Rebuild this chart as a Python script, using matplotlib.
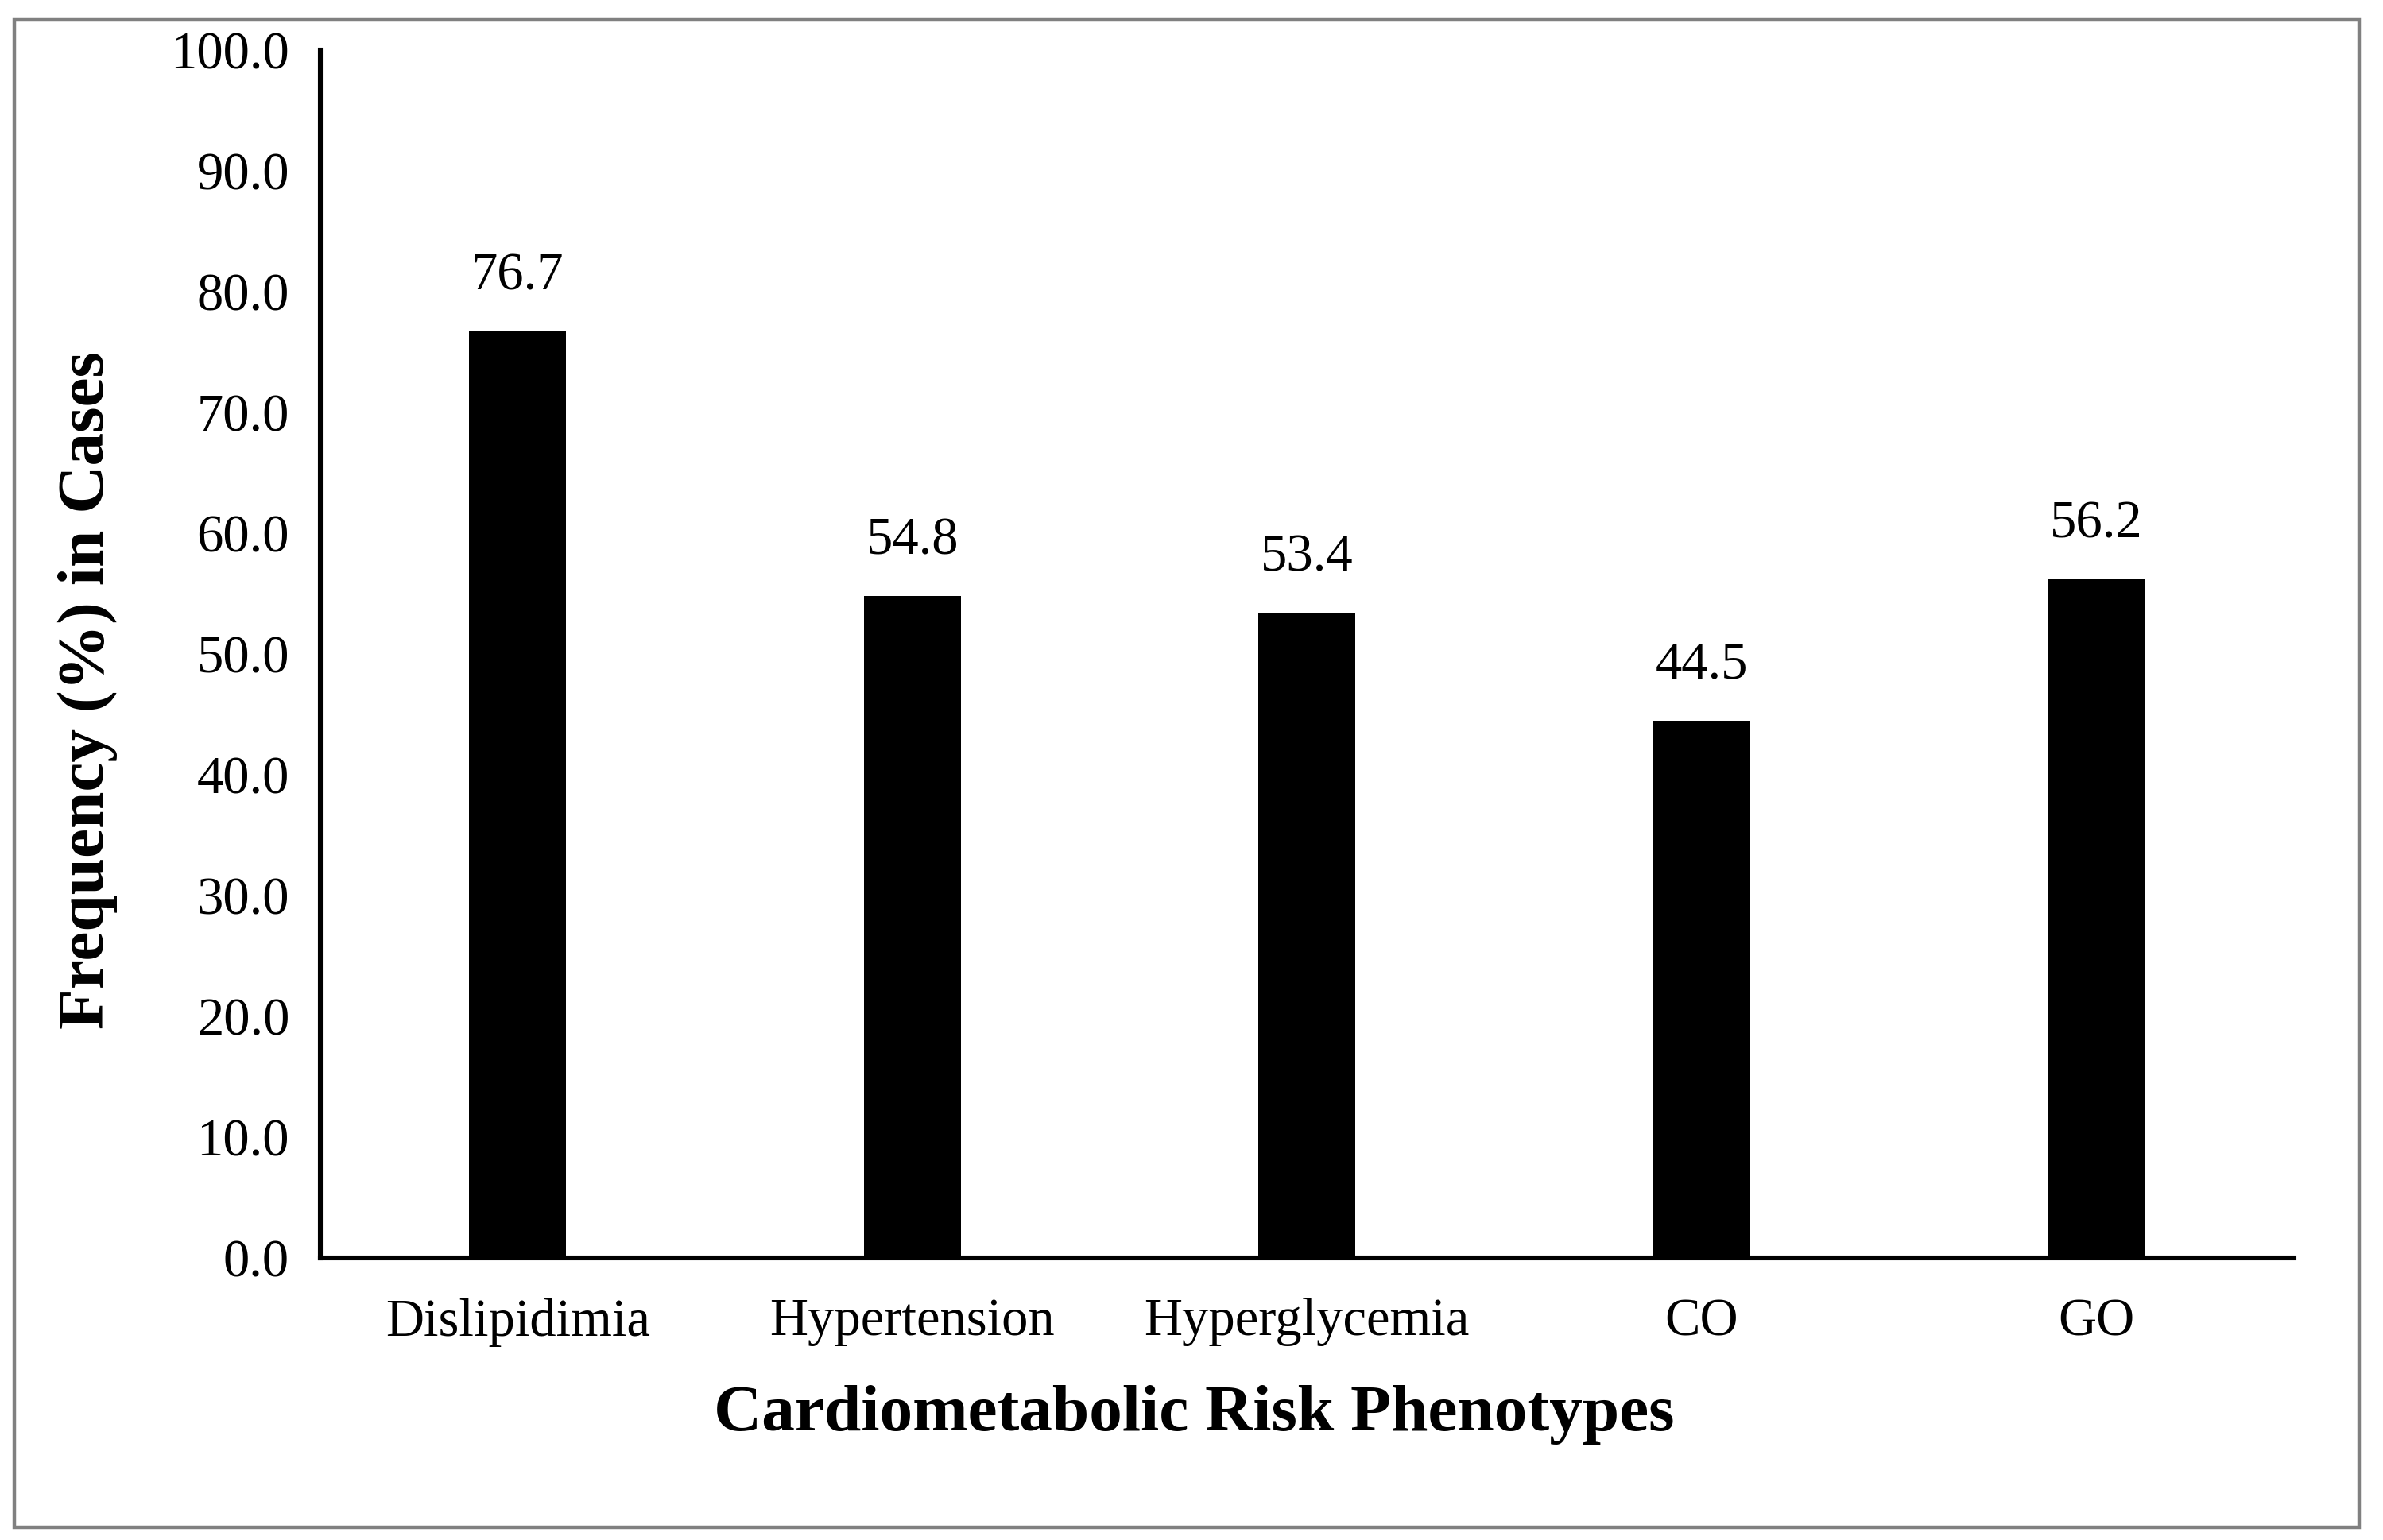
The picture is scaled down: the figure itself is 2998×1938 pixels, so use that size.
import matplotlib
matplotlib.use("Agg")
import matplotlib.pyplot as plt
from matplotlib.patches import Rectangle

categories = ["Dislipidimia", "Hypertension", "Hyperglycemia", "CO", "GO"]
values = [76.7, 54.8, 53.4, 44.5, 56.2]
yticks = [0, 10, 20, 30, 40, 50, 60, 70, 80, 90, 100]

plt.rcParams['font.family'] = ['Liberation Serif', 'DejaVu Serif']

fig = plt.figure(figsize=(14.99, 9.69), dpi=200)
ax = fig.add_axes([0.1344, 0.1830, 0.9625 - 0.1344, 0.9675 - 0.1830])

# outer gray frame
fig.patches.append(Rectangle((0.006, 0.008), 0.984, 0.979, transform=fig.transFigure,
                             fill=False, edgecolor='#808080', linewidth=1.6))

x = range(len(categories))
ax.bar(x, values, width=0.245, color='black')
for xi, v in zip(x, values):
    ax.annotate(f"{v:.1f}", (xi, v), xytext=(0, 14), textcoords='offset points',
                ha='center', va='bottom', fontsize=24)

ax.set_xlim(-0.5, len(categories) - 0.5)
ax.set_ylim(0, 100)
ax.set_yticks(yticks)
ax.set_yticklabels([f"{t:.1f}" for t in yticks], fontsize=24)
ax.set_xticks(list(x))
ax.set_xticklabels(categories, fontsize=24)
ax.tick_params(axis='both', length=0)
ax.tick_params(axis='y', pad=14)
ax.tick_params(axis='x', pad=18)

for s in ['top', 'right']:
    ax.spines[s].set_visible(False)
for s in ['left', 'bottom']:
    ax.spines[s].set_linewidth(2.2)

ax.set_xlabel("Cardiometabolic Risk Phenotypes", fontsize=30, fontweight='bold')
ax.set_ylabel("Frequency (%) in Cases", fontsize=30, fontweight='bold')
ax.xaxis.set_label_coords(0.443, -0.13)
ax.xaxis.label.set_va('center')
ax.yaxis.set_label_coords(-0.118, 0.47)
ax.yaxis.label.set_va('center')

fig.savefig("out.png", dpi=200, facecolor='white')
